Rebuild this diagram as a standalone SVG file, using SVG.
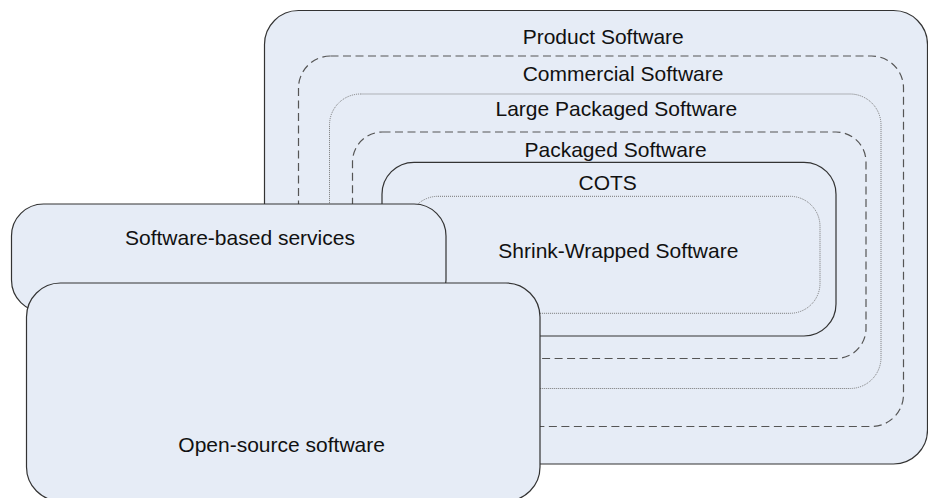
<svg xmlns="http://www.w3.org/2000/svg" width="928" height="498" viewBox="0 0 928 498">
  <style>
    .box { fill: #E6ECF6; stroke: #333333; stroke-width: 1.2; }
    .solid { fill: none; stroke: #333333; stroke-width: 1.2; }
    .dash { fill: none; stroke: #555555; stroke-width: 1.2; stroke-dasharray: 8 4.5; }
    .dot { fill: none; stroke: #777777; stroke-width: 1; stroke-dasharray: 1 1; }
    .lbl { font-family: "Liberation Sans", Arial, sans-serif; font-size: 21px; fill: #111111; }
  </style>
  <rect width="928" height="498" fill="#FFFFFF"/>
  <g id="product-software">
    <rect class="box" x="264.5" y="10.5" width="663" height="453.5" rx="34" ry="34"/>
    <text class="lbl" x="522.7" y="44.3">Product Software</text>
  </g>
  <g id="commercial-software">
    <rect class="dash" x="298.5" y="56" width="605" height="370.5" rx="32" ry="32"/>
    <text class="lbl" x="522.7" y="81">Commercial Software</text>
  </g>
  <g id="large-packaged-software">
    <rect class="dot" x="329.5" y="94" width="551.5" height="294.5" rx="31" ry="31"/>
    <text class="lbl" x="495.5" y="115.8">Large Packaged Software</text>
  </g>
  <g id="packaged-software">
    <rect class="dash" x="352.5" y="132" width="513.5" height="226.5" rx="30" ry="30"/>
    <text class="lbl" x="524.5" y="156.7">Packaged Software</text>
  </g>
  <g id="cots">
    <rect class="solid" x="382" y="162.3" width="454" height="173.7" rx="32" ry="32"/>
    <text class="lbl" x="578.5" y="190">COTS</text>
  </g>
  <g id="shrink-wrapped-software">
    <rect class="dot" x="408" y="196.3" width="412" height="117" rx="30" ry="30"/>
    <text class="lbl" x="498.3" y="258">Shrink-Wrapped Software</text>
  </g>
  <g id="software-based-services">
    <rect class="box" x="11.5" y="204" width="434.5" height="108" rx="32" ry="32"/>
    <text class="lbl" x="125" y="245">Software-based services</text>
  </g>
  <g id="open-source-software">
    <rect class="box" x="26.5" y="283" width="513.5" height="218" rx="34" ry="34"/>
    <text class="lbl" x="178.3" y="452">Open-source software</text>
  </g>
  <g id="connectors"/>
</svg>
